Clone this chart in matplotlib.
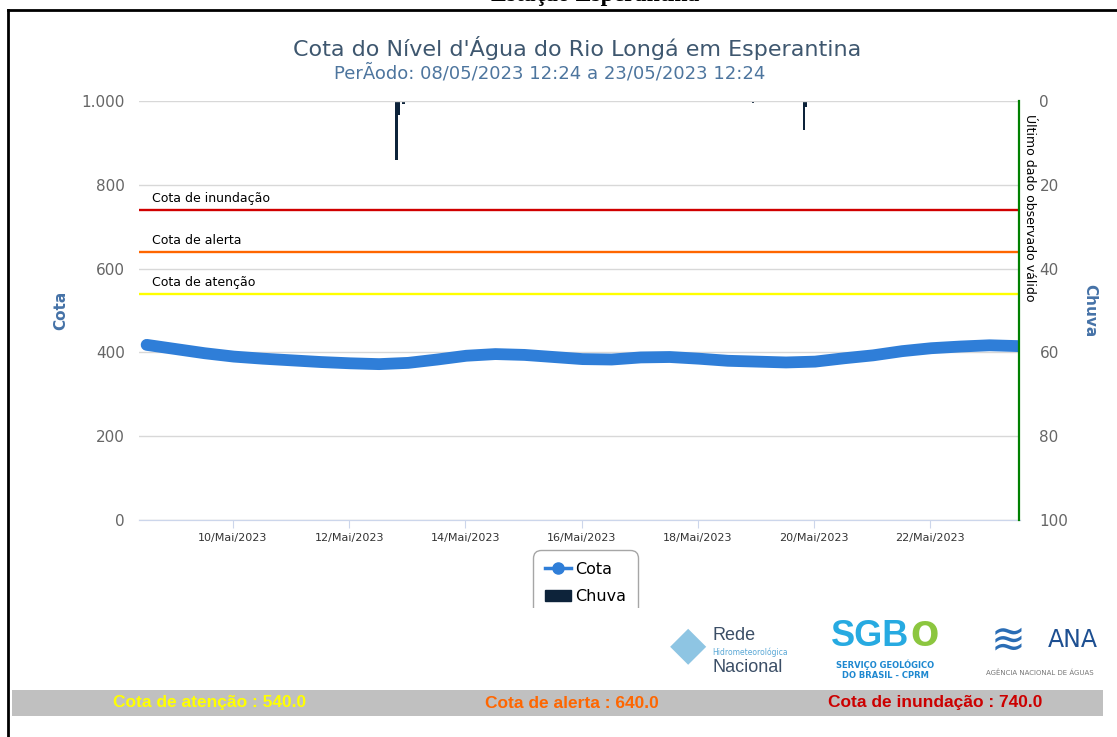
import matplotlib
matplotlib.use("Agg")
import matplotlib.pyplot as plt
import matplotlib.dates as mdates
from matplotlib.ticker import FuncFormatter
from matplotlib.lines import Line2D
from matplotlib.patches import Patch, Rectangle
import pandas as pd

# dados (cota em cm, chuva em mm)
cota_time = ["2023-05-08 12:24", "2023-05-09 00:24", "2023-05-09 12:24", "2023-05-10 00:24",
             "2023-05-10 12:24", "2023-05-11 00:24", "2023-05-11 12:24", "2023-05-12 00:24",
             "2023-05-12 12:24", "2023-05-13 00:24", "2023-05-13 12:24", "2023-05-14 00:24",
             "2023-05-14 12:24", "2023-05-15 00:24", "2023-05-15 12:24", "2023-05-16 00:24",
             "2023-05-16 12:24", "2023-05-17 00:24", "2023-05-17 12:24", "2023-05-18 00:24",
             "2023-05-18 12:24", "2023-05-19 00:24", "2023-05-19 12:24", "2023-05-20 00:24",
             "2023-05-20 12:24", "2023-05-21 00:24", "2023-05-21 12:24", "2023-05-22 00:24",
             "2023-05-22 12:24", "2023-05-23 00:24", "2023-05-23 12:24"]
cota = [418, 408, 398, 390, 385, 381, 377, 374, 372, 375, 383, 392, 396, 394, 389, 384,
        383, 388, 389, 385, 380, 378, 376, 378, 386, 393, 403, 410, 414, 417, 415]

rain_time = ["2023-05-12 19:30", "2023-05-12 20:30", "2023-05-12 22:30", "2023-05-18 22:45",
             "2023-05-19 19:45", "2023-05-19 20:45", "2023-05-20 22:30", "2023-05-23 00:30"]
rain = [14.0, 3.4, 0.6, 0.4, 7.0, 1.4, 0.3, 0.3]

limiar_nome = ["Cota de inundação", "Cota de alerta", "Cota de atenção"]
limiar_valor = [740.0, 640.0, 540.0]
limiar_cor = ["#d00000", "#ff6600", "#ffff00"]
faixa_cor = ["#cc0000", "#ff6600", "#ffff00"]

tick_days = ["2023-05-10", "2023-05-12", "2023-05-14", "2023-05-16",
             "2023-05-18", "2023-05-20", "2023-05-22"]

t_cota = pd.to_datetime(cota_time)
t_rain = pd.to_datetime(rain_time)
ultimo = t_cota[-1]

W, H = 1117, 737
fig = plt.figure(figsize=(W / 100, H / 100), dpi=100)
plt.rcParams['font.family'] = ['DejaVu Sans']

def fx(px):
    return px / W

def fy(py):
    return 1 - py / H

ax = fig.add_axes([fx(139), fy(520), fx(1020) - fx(139), fy(101) - fy(520)])
ax2 = ax.twinx()
ax.set_zorder(2)
ax.patch.set_visible(False)

# chuva (eixo da direita invertido)
ax2.bar(t_rain, rain, width=1 / 24, color="#0d233a", zorder=2)
ax2.set_ylim(100, 0)
ax2.set_yticks([0, 20, 40, 60, 80, 100])
ax2.tick_params(axis="y", length=0, labelsize=11, labelcolor="#666666", pad=14)
ax2.set_ylabel("Chuva", color="#4572a7", fontsize=11, fontweight="bold", rotation=270)
ax2.yaxis.set_label_coords(1.088, 0.5)

# cota
ax.plot(t_cota, cota, color="#2f7ed8", lw=8.5, solid_capstyle="round", solid_joinstyle="round", zorder=4)
for nome, v, c in zip(limiar_nome, limiar_valor, limiar_cor):
    ax.axhline(v, color=c, lw=1.7, zorder=3)
    ax.text(pd.Timestamp("2023-05-08 14:30"), v + 11, nome, fontsize=9, color="black", va="bottom")
ax.axvline(ultimo, color="#008000", lw=1.6, zorder=5, clip_on=False)
ax.text(ultimo + pd.Timedelta(hours=2), 1000 - 30, "Último dado observado válido", rotation=270,
        fontsize=9, va="top", ha="left", color="black")

ax.set_ylim(0, 1000)
ax.set_yticks([0, 200, 400, 600, 800, 1000])
ax.yaxis.set_major_formatter(FuncFormatter(lambda v, p: f"{int(v):,}".replace(",", ".")))
ax.grid(axis="y", color="#d8d8d8", lw=1)
ax.set_axisbelow(True)
ax.set_xlim(pd.Timestamp("2023-05-08 09:15"), pd.Timestamp("2023-05-23 13:00"))
ax.set_xticks(pd.to_datetime(tick_days))
ax.xaxis.set_major_formatter(FuncFormatter(
    lambda v, p: mdates.num2date(v).strftime("%d/Mai/%Y")))
ax.tick_params(axis="x", length=6, color="#ccd6eb", labelsize=8, labelcolor="#333333", pad=3)
ax.tick_params(axis="y", length=0, labelsize=11, labelcolor="#666666", pad=10)
ax.set_ylabel("Cota", color="#4572a7", fontsize=11, fontweight="bold")
ax.yaxis.set_label_coords(-0.08, 0.5)
for a in (ax, ax2):
    for s in ("top", "left", "right"):
        a.spines[s].set_visible(False)
    a.spines["bottom"].set_color("#ccd6eb")

fig.text(fx(577), fy(48), "Cota do Nível d'Água do Rio Longá em Esperantina",
         ha="center", va="center", fontsize=16, color="#3e576f")
fig.text(fx(550), fy(73), "PerÃodo: 08/05/2023 12:24 a 23/05/2023 12:24",
         ha="center", va="center", fontsize=13, color="#4d759e")

# legenda (a parte de baixo fica escondida pela faixa dos logotipos)
handles = [Line2D([], [], color="#2f7ed8", lw=2.5, marker="o", ms=8),
           Patch(color="#0d233a")]
leg = fig.legend(handles, ["Cota", "Chuva"], loc="upper left",
                 bbox_to_anchor=(fx(533), fy(550)), fontsize=11.5, frameon=True,
                 borderaxespad=0, handlelength=1.6, borderpad=0.75, labelspacing=0.75,
                 handletextpad=0.3)
leg.get_frame().set_edgecolor("#909090")
leg.get_frame().set_linewidth(1)
leg.get_frame().set_boxstyle("round,pad=0,rounding_size=0.5")
fig.add_artist(Rectangle((0, fy(690)), 1, fy(608) - fy(690), transform=fig.transFigure,
                         facecolor="white", edgecolor="none", zorder=6))

# logotipos (aproximados em texto)
fig.text(fx(712), fy(636), "Rede", fontsize=13, color="#3b4e66", va="center", zorder=7,
         family=["Liberation Sans Narrow", "Liberation Sans"])
fig.text(fx(712), fy(652), "Hidrometeorológica", fontsize=5.5, color="#5aa8d6", va="center", zorder=7)
fig.text(fx(712), fy(667), "Nacional", fontsize=13, color="#3b4e66", va="center", zorder=7,
         family=["Liberation Sans Narrow", "Liberation Sans"])
fig.text(fx(688), fy(646), "◆", fontsize=34, color="#8ec5e3", ha="center", va="center", zorder=7)
fig.text(fx(870), fy(636), "SGB", fontsize=26, color="#27aae1", fontweight="bold", ha="center",
         va="center", zorder=7, family=["Liberation Sans Narrow", "Liberation Sans"])
fig.text(fx(925), fy(636), "O", fontsize=24, color="#8cc63f", fontweight="bold", ha="center",
         va="center", zorder=7)
fig.text(fx(885), fy(665), "SERVIÇO GEOLÓGICO", fontsize=6, color="#1e88d0", fontweight="bold",
         ha="center", va="center", zorder=7)
fig.text(fx(885), fy(675), "DO BRASIL - CPRM", fontsize=6, color="#1e88d0", fontweight="bold",
         ha="center", va="center", zorder=7)
fig.text(fx(1008), fy(640), "≋", fontsize=30, color="#2a6db5", ha="center", va="center", zorder=7)
fig.text(fx(1073), fy(640), "ANA", fontsize=17, color="#1d4f91", ha="center", va="center", zorder=7)
fig.text(fx(1040), fy(673), "AGÊNCIA NACIONAL DE ÁGUAS", fontsize=5, color="#777777",
         ha="center", va="center", zorder=7)

# faixa inferior com as cotas de referencia
fig.add_artist(Rectangle((fx(12), fy(716)), fx(1103) - fx(12), fy(690) - fy(716),
                         transform=fig.transFigure, facecolor="#c0c0c0", edgecolor="none", zorder=7))
faixa_x = [210, 572, 935]
for xx, nome, v, c in zip(faixa_x, reversed(limiar_nome), reversed(limiar_valor), reversed(faixa_cor)):
    fig.text(fx(xx), fy(703), f"{nome} : {v:.1f}", ha="center", va="center", fontsize=12.5,
             fontweight="bold", color=c, zorder=8,
             family=["Liberation Sans Narrow", "Liberation Sans"])

# moldura e titulo cortado da pagina
fig.add_artist(Line2D([fx(8), fx(8)], [0, fy(10)], color="black", lw=2,
                      transform=fig.transFigure, zorder=10))
fig.add_artist(Line2D([fx(8), 1], [fy(10), fy(10)], color="black", lw=2,
                      transform=fig.transFigure, zorder=10))
fig.text(fx(595), fy(1), "Estação Esperantina", ha="center", va="baseline", fontsize=17,
         fontweight="bold", family=["Liberation Serif"])

fig.savefig("out.png", dpi=100)
